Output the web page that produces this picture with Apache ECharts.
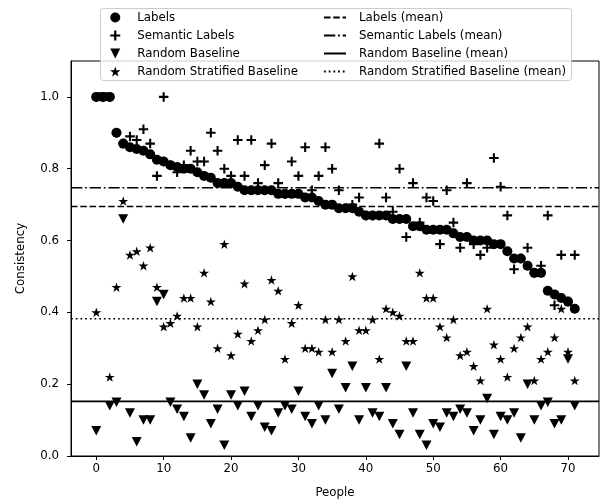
<!DOCTYPE html>
<html><head><meta charset="utf-8">
<script src="https://cdn.jsdelivr.net/npm/echarts@6/dist/echarts.min.js"></script>
<style>html,body{margin:0;padding:0;background:#fff}#c{width:608px;height:504px}</style>
</head><body><div id="c"></div>
<script>
// ---- data ----
const people = [0,1,2,3,4,5,6,7,8,9,10,11,12,13,14,15,16,17,18,19,20,21,22,23,24,25,26,27,28,29,30,31,32,33,34,35,
  36,37,38,39,40,41,42,43,44,45,46,47,48,49,50,51,52,53,54,55,56,57,58,59,60,61,62,63,64,65,66,67,68,69,70,71];
const labels = [1.0,1.0,1.0,0.90,0.87,0.86,0.855,0.85,0.84,0.825,0.82,0.81,0.805,0.80,0.80,0.79,0.78,0.775,0.76,0.76,
  0.76,0.75,0.74,0.74,0.74,0.74,0.74,0.73,0.73,0.73,0.73,0.72,0.72,0.71,0.70,0.70,0.69,0.69,0.69,0.68,
  0.67,0.67,0.67,0.67,0.66,0.66,0.66,0.64,0.64,0.63,0.63,0.63,0.63,0.62,0.61,0.61,0.60,0.60,0.60,0.59,
  0.59,0.57,0.55,0.55,0.53,0.51,0.51,0.46,0.45,0.44,0.43,0.41];
const semanticLabels = [1.0,1.0,1.0,0.90,0.87,0.89,0.88,0.91,0.87,0.78,1.0,0.81,0.79,0.81,0.85,0.82,0.82,0.90,0.85,0.80,
  0.78,0.88,0.78,0.88,0.76,0.81,0.87,0.76,0.73,0.82,0.78,0.86,0.74,0.78,0.86,0.80,0.74,0.69,0.70,0.72,
  0.67,0.67,0.87,0.72,0.68,0.80,0.61,0.76,0.65,0.72,0.71,0.59,0.74,0.65,0.58,0.76,0.59,0.56,0.58,0.83,
  0.75,0.67,0.52,0.55,0.58,0.51,0.53,0.67,0.42,0.56,0.43,0.56];
const randomBaseline = [0.07,1.0,0.14,0.15,0.66,0.12,0.04,0.10,0.10,0.43,0.45,0.15,0.13,0.11,0.05,0.20,0.17,0.09,0.13,0.03,
  0.17,0.14,0.18,0.11,0.14,0.08,0.07,0.12,0.14,0.13,0.18,0.11,0.09,0.14,0.10,0.23,0.13,0.19,0.25,0.10,
  0.19,0.12,0.11,0.19,0.09,0.06,0.25,0.12,0.06,0.03,0.09,0.08,0.12,0.11,0.13,0.12,0.07,0.10,0.16,0.06,
  0.11,0.10,0.12,0.05,0.20,0.10,0.14,0.15,0.09,0.10,0.27,0.14];
const randomStratified = [0.40,1.0,0.22,0.47,0.71,0.56,0.57,0.53,0.58,0.47,0.36,0.37,0.39,0.44,0.44,0.36,0.51,0.43,0.30,0.59,
  0.28,0.34,0.48,0.32,0.35,0.38,0.49,0.46,0.27,0.37,0.42,0.30,0.30,0.29,0.38,0.29,0.38,0.32,0.50,0.35,
  0.35,0.38,0.27,0.41,0.40,0.39,0.32,0.32,0.51,0.44,0.44,0.36,0.33,0.38,0.28,0.29,0.25,0.21,0.41,0.31,
  0.27,0.22,0.30,0.33,0.36,0.21,0.27,0.29,0.33,0.41,0.29,0.21];
const seriesNames = ['Labels','Semantic Labels','Random Baseline','Random Stratified Baseline'];
const meanNames = ['Labels (mean)','Semantic Labels (mean)','Random Baseline (mean)','Random Stratified Baseline (mean)'];
const xTicks = [0,10,20,30,40,50,60,70];
const yTicks = [0.0,0.2,0.4,0.6,0.8,1.0];

// ---- chart ----
const FONT = 'DejaVu Sans';
const FS = 11.8;
const xMin = -3.75, xMax = 74.6;
const allSeries = [labels, semanticLabels, randomBaseline, randomStratified];
const mean = a => a.reduce((s, v) => s + v, 0) / a.length;
const pts = arr => people.map((p, i) => [p, arr[i]]);

const SYM = [
  'circle',
  'path://M3.9,0H6.1V3.9H10V6.1H6.1V10H3.9V6.1H0V3.9H3.9Z',
  'path://M0,0L10,0L5,10Z',
  'path://M10,0L12.245,6.91L19.51,6.91L13.63,11.18L15.88,18.09L10,13.82L4.12,18.09L6.37,11.18L0.49,6.91L7.755,6.91Z'
];
const SIZE = [10, 9.5, [10, 9.5], [10, 9.5]];
const DASH = [[6.5, 2.8], [11.3, 2.8, 1.8, 2.8], 'solid', [1.8, 2.9]];

const series = [];
allSeries.forEach((arr, k) => {
  series.push({
    name: seriesNames[k], type: 'scatter', data: pts(arr),
    symbol: SYM[k], symbolSize: SIZE[k],
    itemStyle: { color: '#000', opacity: 1 }, z: 3 + k, silent: true
  });
});
allSeries.forEach((arr, k) => {
  const m = mean(arr);
  series.push({
    name: meanNames[k], type: 'line', data: [[xMin, m], [xMax, m]],
    symbol: 'none', showSymbol: false,
    lineStyle: { color: '#000', width: 1.6, type: DASH[k] },
    itemStyle: { color: '#000' }, z: 2, silent: true
  });
});

const legendText = (pad) => ({ fontFamily: FONT, fontSize: FS, color: '#000', lineHeight: 11, padding: [0, 0, 0, pad] });

const option = {
  animation: false,
  backgroundColor: '#fff',
  textStyle: { fontFamily: FONT },
  grid: { left: 71, right: 9, top: 61, bottom: 47, show: true, borderColor: '#000', borderWidth: 1, backgroundColor: '#fff' },
  xAxis: {
    type: 'value', min: xMin, max: xMax,
    name: 'People', nameLocation: 'middle', nameGap: 31,
    nameTextStyle: { fontFamily: FONT, fontSize: FS, color: '#000' },
    axisLine: { show: true, onZero: false, lineStyle: { color: '#000', width: 1 } },
    axisTick: { show: true, inside: false, length: 4, lineStyle: { color: '#000', width: 1 }, customValues: xTicks },
    axisLabel: { customValues: xTicks, color: '#000', fontFamily: FONT, fontSize: FS, margin: 7 },
    splitLine: { show: false }
  },
  yAxis: {
    type: 'value', min: 0, max: 1.1,
    name: 'Consistency', nameLocation: 'middle', nameGap: 44,
    nameTextStyle: { fontFamily: FONT, fontSize: FS, color: '#000' },
    axisLine: { show: true, onZero: false, lineStyle: { color: '#000', width: 1 } },
    axisTick: { show: true, inside: false, length: 4, lineStyle: { color: '#000', width: 1 }, customValues: yTicks },
    axisLabel: { customValues: yTicks, color: '#000', fontFamily: FONT, fontSize: FS, margin: 12, formatter: v => v.toFixed(1) },
    splitLine: { show: false }
  },
  graphic: [{
    type: 'rect', z: 3,
    shape: { x: 100.5, y: 8.5, width: 471, height: 72, r: 3 },
    style: { fill: 'rgba(255,255,255,0.8)', stroke: '#cccccc', lineWidth: 1 }
  }],
  legend: [
    { data: seriesNames, orient: 'vertical', left: 110, top: 11.5, padding: 0,
      itemWidth: 14, itemHeight: 10, itemGap: 6, selectedMode: false, z: 10,
      itemStyle: { opacity: 1 },
      textStyle: legendText(10) },
    { data: meanNames, orient: 'vertical', left: 323, top: 11.5, padding: 0,
      itemWidth: 22, itemHeight: 10, itemGap: 6, selectedMode: false, z: 10,
      itemStyle: { color: 'rgba(0,0,0,0)', borderWidth: 0, opacity: 0 },
      textStyle: legendText(8) }
  ],
  series: series
};
const chart = echarts.init(document.getElementById('c'), null, { renderer: 'canvas' });
chart.setOption(option);
</script></body></html>
